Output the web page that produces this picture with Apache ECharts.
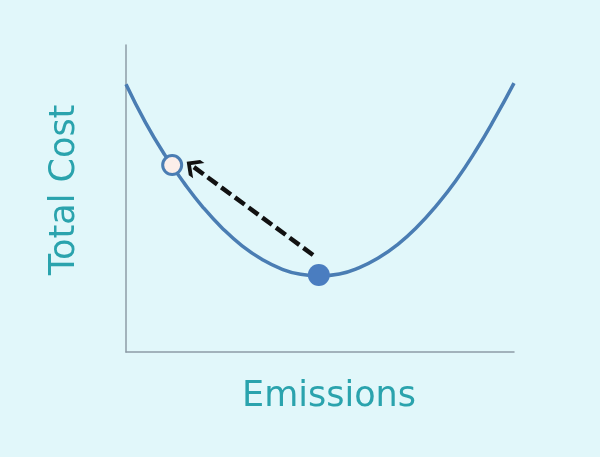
<!DOCTYPE html>
<html>
<head>
<meta charset="utf-8">
<script src="https://cdn.jsdelivr.net/npm/echarts@6/dist/echarts.min.js"></script>
<style>
html,body{margin:0;padding:0;background:#e1f7fa;}
#chart{width:600px;height:457px;}
</style>
</head>
<body>
<div id="chart"></div>
<script>
// Curve points (x: emissions 0-100, y: total cost 0-100)
var curveX = [0, 5, 10, 15, 20, 25, 30, 35, 40, 45, 50, 55, 60, 65, 70, 75, 80, 85, 90, 95, 100];
var curveY = [87.2, 74.8, 64.2, 55.0, 46.9, 40.1, 34.5, 30.2, 27.1, 25.3, 24.8, 25.4, 27.4, 30.6, 35.0, 40.7, 47.7, 55.8, 65.3, 76.0, 87.6];
var optimumPoint = [49.7, 25.1];
var movedPoint = [11.9, 60.9];
var arrowFrom = [48.2, 31.6];
var arrowTo = [17.2, 60.5];
var xAxisName = 'Emissions';
var yAxisName = 'Total Cost';

var curve = curveX.map(function (x, i) { return [x, curveY[i]]; });

var chart = echarts.init(document.getElementById('chart'));
chart.setOption({
  backgroundColor: '#e1f7fa',
  animation: false,
  grid: {left: 126, right: 86, top: 45, bottom: 105},
  xAxis: {
    type: 'value', min: 0, max: 100,
    name: xAxisName, nameLocation: 'middle', nameGap: 27,
    nameTextStyle: {color: '#2aa3ad', fontSize: 35, fontFamily: 'DejaVu Sans', padding: [0, 0, 0, 18]},
    axisLine: {show: true, lineStyle: {color: '#8d9ca6', width: 1.5}},
    axisTick: {show: false}, axisLabel: {show: false}, splitLine: {show: false}
  },
  yAxis: {
    type: 'value', min: 0, max: 100,
    name: yAxisName, nameLocation: 'middle', nameGap: 44,
    nameTextStyle: {color: '#2aa3ad', fontSize: 35, fontFamily: 'DejaVu Sans', padding: [0, 0, 0, 17]},
    axisLine: {show: true, lineStyle: {color: '#8d9ca6', width: 1.5}},
    axisTick: {show: false}, axisLabel: {show: false}, splitLine: {show: false}
  },
  series: [
    {
      type: 'line', data: curve, smooth: true, showSymbol: false,
      lineStyle: {color: '#4a7db3', width: 3.5},
      markLine: {
        silent: true,
        symbol: ['none', 'path://M10,0 L20,9 L20,14 L10,5 L0,14 L0,9 Z'],
        symbolSize: [19, 15],
        label: {show: false},
        lineStyle: {color: '#111111', width: 4.5, type: [12, 5]},
        data: [[{coord: arrowFrom}, {coord: arrowTo}]]
      },
      z: 2
    },
    {
      type: 'scatter', data: [optimumPoint], symbolSize: 22,
      itemStyle: {color: '#4a7dc0', opacity: 1}, z: 3
    },
    {
      type: 'scatter', data: [movedPoint], symbolSize: 19,
      itemStyle: {color: '#fbeee9', borderColor: '#4a7db3', borderWidth: 3, opacity: 1}, z: 3
    }
  ]
});
</script>
</body>
</html>
